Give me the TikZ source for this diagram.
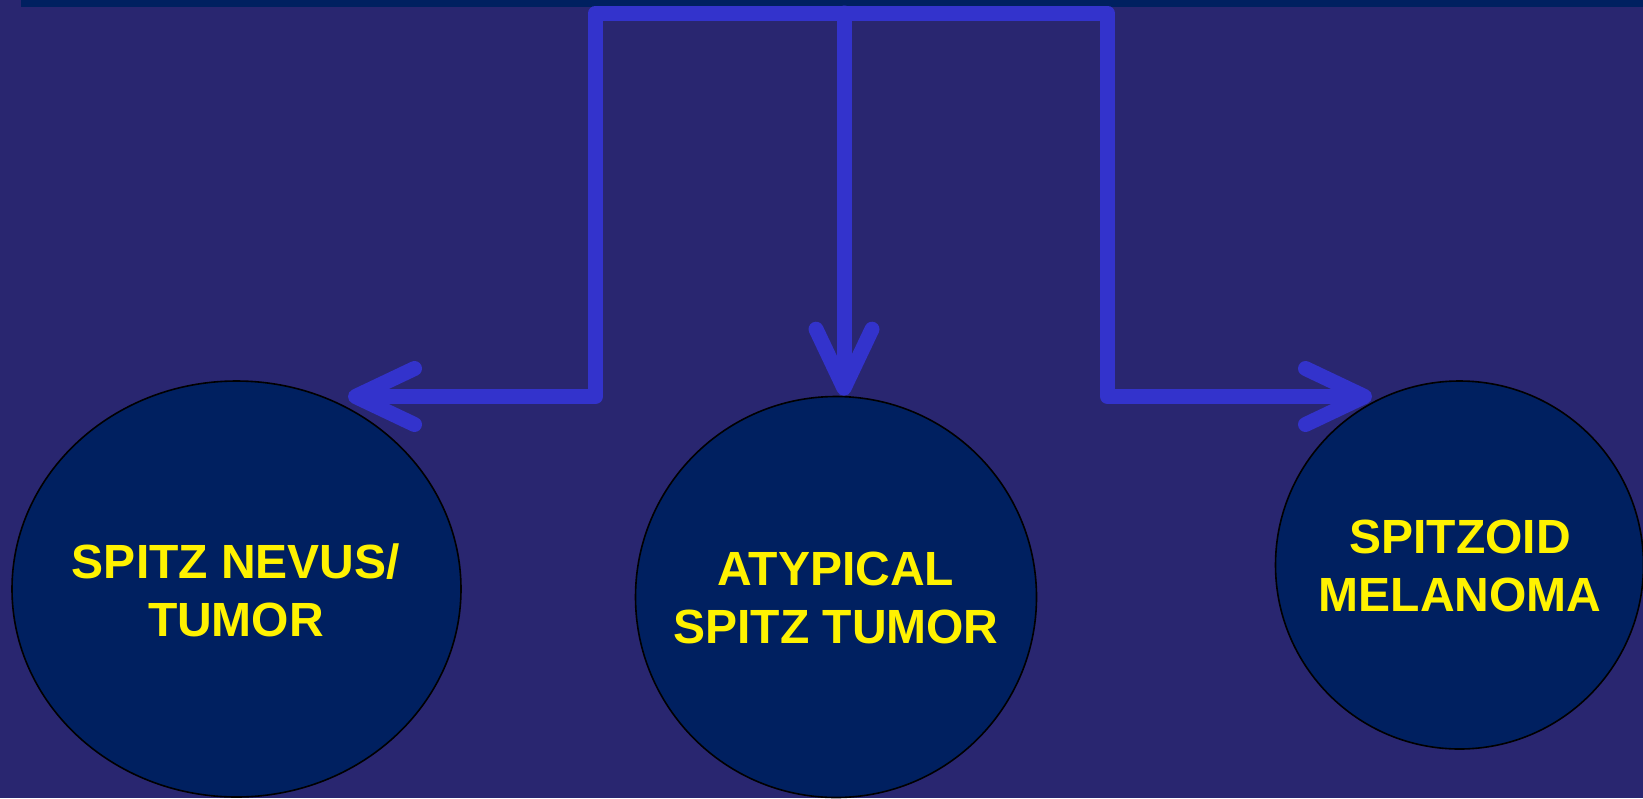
\documentclass[tikz,border=0pt]{standalone}
\usepackage{fontspec}
\setsansfont{Liberation Sans}
\usetikzlibrary{arrows.meta,shapes.geometric}

\definecolor{slidebg}{RGB}{41,38,112}
\definecolor{darkblue}{RGB}{0,32,96}
\definecolor{arrowblue}{RGB}{51,51,204}

\tikzset{
	blob/.style={ellipse, draw=black, line width=0.8pt, fill=darkblue, inner sep=0pt},
	caption/.style={text=yellow, font=\sffamily\bfseries\fontsize{24}{29}\selectfont, align=center},
	conn/.style={arrowblue, line width=7.5pt, line join=round, line cap=round,
		-{Straight Barb[length=29.5pt, width=28pt, round]}}
}

\begin{document}
\begin{tikzpicture}[x=0.5pt, y=-0.5pt]
	%% Hintergrund
	\fill[slidebg] (0,0) rectangle (1643,798);
	\path[use as bounding box] (0,0) rectangle (1643,798);
	\fill[darkblue] (21,0) rectangle (1643,7);
	%%%%%%%%%%%%%%%%

	%% Kreise
	\node[blob, minimum width=224.5pt, minimum height=208pt] (nevus) at (236.5,589) {};
	\node[blob, minimum size=200.5pt] (atyp) at (836,597) {};
	\node[blob, minimum size=184pt] (melan) at (1459.5,565) {};
	\node[caption] (nevustext) at (236,590) {SPITZ NEVUS/\\TUMOR};
	\node[caption] (atyptext) at (836,598) {ATYPICAL\\SPITZ TUMOR};
	\node[caption] (melantext) at (1460,566) {SPITZOID\\MELANOMA};

	%% Pfeile
	\coordinate (hub) at (844,13);
	\coordinate (lbend) at (595.5,396.5);
	\coordinate (rbend) at (1107.5,396.5);
	\coordinate (ltip) at (348,396.5);
	\coordinate (rtip) at (1372,396.5);
	\draw[conn] (hub) -| (lbend) -- (ltip);
	\draw[conn] (hub) -- (hub |- atyp.north);
	\draw[conn] (hub) -| (rbend) -- (rtip);
\end{tikzpicture}
\end{document}
